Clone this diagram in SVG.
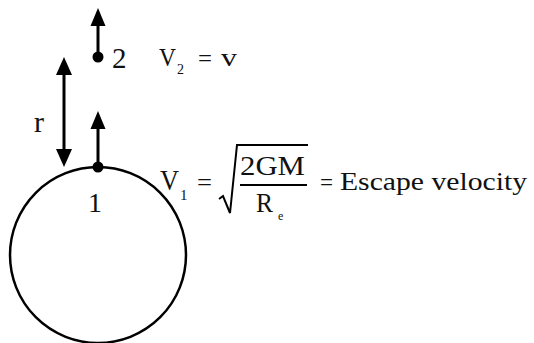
<svg xmlns="http://www.w3.org/2000/svg" width="534" height="343" viewBox="0 0 534 343">
<style>
text{font-family:"Liberation Serif","Times New Roman",serif;fill:#111}
.ln{stroke:#000;stroke-width:3;fill:none}
.hd{fill:#000}
</style>
<rect width="534" height="343" fill="#fff"/>
<g id="earth">
<circle cx="98" cy="255" r="88" fill="none" stroke="#000" stroke-width="2.5"/>
</g>
<g id="point1">
<circle cx="98" cy="167" r="5.5" fill="#000"/>
<text x="95" y="212" font-size="28" text-anchor="middle">1</text>
</g>
<g id="point2">
<circle cx="98" cy="57" r="5.5" fill="#000"/>
<text x="112" y="68" font-size="29">2</text>
</g>
<g id="connectors">
<line class="ln" x1="98" y1="57" x2="98" y2="24"/>
<polygon class="hd" points="98,8 90.5,26 105.5,26"/>
<line class="ln" x1="98" y1="167" x2="98" y2="127"/>
<polygon class="hd" points="98,111 90.5,129 105.5,129"/>
<line class="ln" x1="64" y1="72" x2="64" y2="152"/>
<polygon class="hd" points="64,57 56,75 72,75"/>
<polygon class="hd" points="64,167 56,149 72,149"/>
</g>
<g id="label-r">
<text x="34" y="132" font-size="30">r</text>
</g>
<g id="label-v2">
<text x="159" y="66" font-size="25" textLength="17" lengthAdjust="spacingAndGlyphs">V</text>
<text x="177" y="74" font-size="14">2</text>
<text x="198" y="66" font-size="24" textLength="14" lengthAdjust="spacingAndGlyphs">=</text>
<text x="221" y="66" font-size="26" textLength="16" lengthAdjust="spacingAndGlyphs">v</text>
</g>
<g id="label-v1">
<text x="160" y="190" font-size="29" textLength="19" lengthAdjust="spacingAndGlyphs">V</text>
<text x="180" y="200" font-size="15">1</text>
<text x="197" y="190" font-size="24" textLength="15" lengthAdjust="spacingAndGlyphs">=</text>
<path d="M219,199 L223,196 L230,213 L237,145 L308,145" fill="none" stroke="#000" stroke-width="2"/>
<text x="240" y="175" font-size="27" textLength="65" lengthAdjust="spacingAndGlyphs">2GM</text>
<line x1="240" y1="185" x2="307" y2="185" stroke="#000" stroke-width="2"/>
<text x="256" y="212" font-size="27" textLength="17" lengthAdjust="spacingAndGlyphs">R</text>
<text x="278" y="220" font-size="12">e</text>
<text x="320" y="190" font-size="24" textLength="13" lengthAdjust="spacingAndGlyphs">=</text>
<text x="340" y="190" font-size="26" textLength="187" lengthAdjust="spacingAndGlyphs">Escape velocity</text>
</g>
</svg>
